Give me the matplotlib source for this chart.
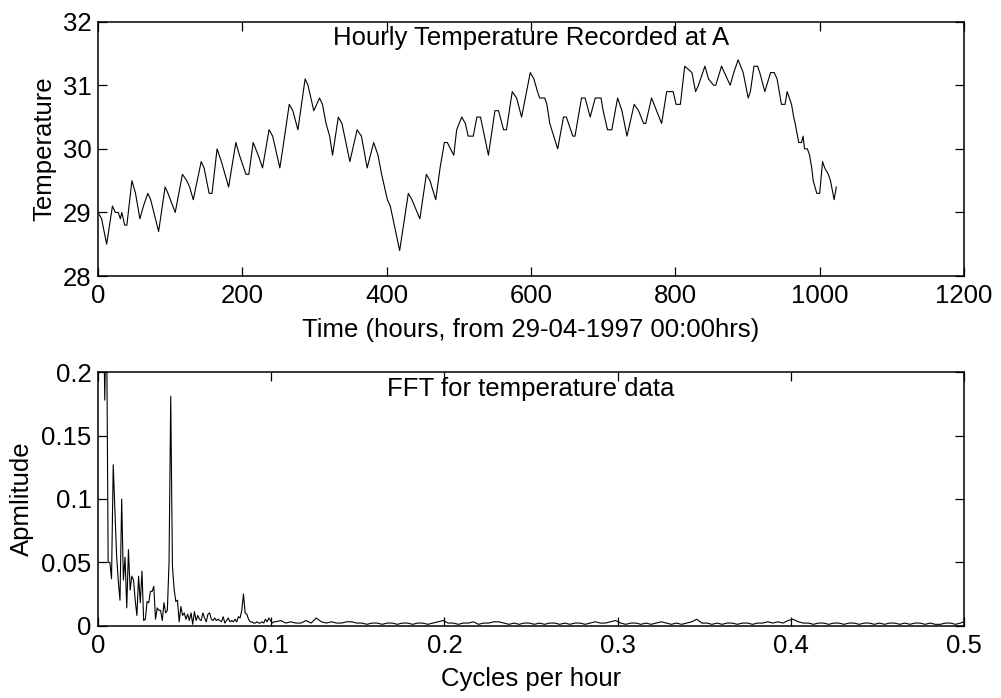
import matplotlib
matplotlib.use("Agg")
import matplotlib.pyplot as plt
import numpy as np

# ---------------- data ----------------
hours = [0, 5, 12, 20, 24, 28, 31, 33, 37, 40, 47, 52, 58, 63, 69, 73, 84, 93, 97, 107,
         117, 123, 127, 132, 143, 147, 154, 158, 165, 171, 176, 181, 191, 196, 205, 209,
         215, 222, 228, 237, 242, 252, 256, 265, 270, 277, 287, 291, 299, 307, 311, 316,
         321, 325, 333, 338, 349, 359, 365, 373, 382, 388, 393, 401, 405, 418, 430, 435,
         446, 455, 460, 468, 474, 480, 484, 493, 497, 504, 509, 513, 520, 525, 530, 541,
         550, 555, 562, 566, 574, 580, 587, 599, 604, 609, 612, 619, 622, 626, 637, 645,
         649, 658, 661, 670, 675, 682, 689, 697, 700, 706, 712, 720, 726, 733, 743, 749,
         756, 759, 767, 774, 781, 788, 797, 801, 807, 813, 823, 828, 832, 841, 846, 853,
         856, 864, 876, 881, 887, 894, 901, 904, 909, 914, 917, 924, 932, 937, 941, 947,
         952, 955, 958, 961, 964, 966, 971, 975, 977, 979, 983, 986, 989, 991, 996, 1000,
         1004, 1007, 1012, 1015, 1020, 1023]
temps = [29.0, 28.9, 28.5, 29.1, 29.0, 29.0, 28.9, 29.0, 28.8, 28.8, 29.5, 29.3, 28.9, 29.1,
         29.3, 29.2, 28.7, 29.4, 29.3, 29.0, 29.6, 29.5, 29.4, 29.2, 29.8, 29.7, 29.3, 29.3,
         30.0, 29.8, 29.6, 29.4, 30.1, 29.9, 29.6, 29.6, 30.1, 29.9, 29.7, 30.3, 30.2, 29.7,
         30.0, 30.7, 30.6, 30.3, 31.1, 31.0, 30.6, 30.8, 30.7, 30.4, 30.2, 29.9, 30.5, 30.4,
         29.8, 30.3, 30.2, 29.7, 30.1, 29.9, 29.6, 29.2, 29.1, 28.4, 29.3, 29.2, 28.9, 29.6,
         29.5, 29.2, 29.7, 30.1, 30.1, 29.9, 30.3, 30.5, 30.4, 30.2, 30.2, 30.5, 30.5, 29.9,
         30.6, 30.6, 30.3, 30.3, 30.9, 30.8, 30.5, 31.2, 31.1, 30.9, 30.8, 30.8, 30.7, 30.4,
         30.0, 30.5, 30.5, 30.2, 30.2, 30.8, 30.8, 30.5, 30.8, 30.8, 30.6, 30.3, 30.3, 30.8,
         30.6, 30.2, 30.7, 30.6, 30.4, 30.4, 30.8, 30.6, 30.4, 30.9, 30.9, 30.7, 30.7, 31.3,
         31.2, 30.9, 31.0, 31.3, 31.1, 31.0, 31.0, 31.3, 31.0, 31.2, 31.4, 31.2, 30.8, 30.9,
         31.3, 31.3, 31.2, 30.9, 31.2, 31.2, 31.1, 30.7, 30.7, 30.9, 30.8, 30.7, 30.5, 30.4,
         30.1, 30.1, 30.2, 30.0, 30.0, 29.9, 29.7, 29.5, 29.3, 29.3, 29.8, 29.7, 29.6, 29.5,
         29.2, 29.4]

# FFT: bin index (frequency = bin / 1024 cycles per hour) and amplitude
fft_bins = list(range(0, 105)) + list(range(105, 511, 3)) + [512]
fft_amp = [
    1.20, 0.60, 0.40, 0.28, 0.178, 0.26, 0.050, 0.050, 0.037, 0.127,
    0.090, 0.055, 0.035, 0.020, 0.100, 0.036, 0.054, 0.014, 0.060, 0.028,
    0.039, 0.036, 0.020, 0.008, 0.039, 0.018, 0.043, 0.004, 0.005, 0.019,
    0.018, 0.027, 0.027, 0.031, 0.005, 0.014, 0.012, 0.012, 0.004, 0.018,
    0.010, 0.012, 0.050, 0.181, 0.047, 0.029, 0.019, 0.020, 0.003, 0.015,
    0.008, 0.010, 0.005, 0.009, 0.004, 0.010, 0.001, 0.011, 0.004, 0.008,
    0.005, 0.004, 0.010, 0.006, 0.003, 0.009, 0.010, 0.005, 0.004, 0.006,
    0.004, 0.005, 0.004, 0.003, 0.007, 0.002, 0.004, 0.006, 0.003, 0.004,
    0.003, 0.005, 0.003, 0.007, 0.006, 0.012, 0.025, 0.010, 0.009, 0.005,
    0.003, 0.003, 0.002, 0.002, 0.003, 0.002, 0.002, 0.003, 0.002, 0.005,
    0.003, 0.006, 0.004, 0.002, 0.003,
    # tail, every third bin from 105
    0.003, 0.004, 0.002, 0.003, 0.002, 0.002, 0.004, 0.002, 0.006, 0.003,
    0.002, 0.003, 0.002, 0.002, 0.003, 0.003, 0.002, 0.002, 0.001, 0.002,
    0.002, 0.001, 0.002, 0.002, 0.001, 0.002, 0.002, 0.001, 0.002, 0.002,
    0.001, 0.002, 0.003, 0.004, 0.002, 0.002, 0.001, 0.002, 0.002, 0.003,
    0.001, 0.002, 0.002, 0.003, 0.003, 0.002, 0.001, 0.002, 0.001, 0.002,
    0.002, 0.001, 0.002, 0.001, 0.002, 0.002, 0.001, 0.002, 0.001, 0.002,
    0.002, 0.001, 0.002, 0.003, 0.002, 0.002, 0.003, 0.004, 0.002, 0.001,
    0.002, 0.002, 0.001, 0.002, 0.001, 0.002, 0.003, 0.002, 0.001, 0.002,
    0.001, 0.002, 0.003, 0.005, 0.002, 0.002, 0.001, 0.002, 0.001, 0.002,
    0.002, 0.001, 0.002, 0.002, 0.001, 0.002, 0.002, 0.003, 0.002, 0.003,
    0.002, 0.004, 0.005, 0.003, 0.002, 0.002, 0.001, 0.002, 0.002, 0.001,
    0.002, 0.002, 0.001, 0.002, 0.002, 0.001, 0.002, 0.002, 0.001, 0.002,
    0.001, 0.002, 0.002, 0.001, 0.002, 0.001, 0.002, 0.002, 0.001, 0.002,
    0.001, 0.001, 0.002, 0.002, 0.001, 0.002,
    0.003]
N_SAMPLES = 1024

top_xticks = [0, 200, 400, 600, 800, 1000, 1200]
top_yticks = [28, 29, 30, 31, 32]
bot_xticks = [0, 0.1, 0.2, 0.3, 0.4, 0.5]
bot_xticklabels = ["0", "0.1", "0.2", "0.3", "0.4", "0.5"]
bot_yticks = [0, 0.05, 0.1, 0.15, 0.2]
bot_yticklabels = ["0", "0.05", "0.1", "0.15", "0.2"]

# ---------------- figure ----------------
plt.rcParams['font.family'] = ['Liberation Sans', 'DejaVu Sans']
FS = 18.5
W, H = 1001, 698
fig = plt.figure(figsize=(W / 100, H / 100), dpi=100)
fig.patch.set_facecolor('white')

ax1 = fig.add_axes([98 / W, 1 - 276 / H, 866 / W, 254.3 / H])
ax2 = fig.add_axes([98 / W, 1 - 625.6 / H, 866 / W, 253.3 / H])


def style(ax):
    for s in ax.spines.values():
        s.set_linewidth(1.1)
        s.set_color('black')
    ax.tick_params(direction='in', top=True, right=True, length=6.2, width=0.9,
                   labelsize=FS, colors='black')
    ax.tick_params(axis='x', pad=6)
    ax.tick_params(axis='y', pad=4.5)


# top panel
ax1.plot(hours, temps, color='black', lw=0.8)
ax1.set_xlim(0, 1200)
ax1.set_ylim(28, 32)
ax1.set_xticks(top_xticks)
ax1.set_yticks(top_yticks)
style(ax1)
ax1.text(0.5, 0.982, "Hourly Temperature Recorded at A", transform=ax1.transAxes,
         ha='center', va='top', fontsize=FS)
ax1.set_xlabel("Time (hours, from 29-04-1997 00:00hrs)", fontsize=FS)
ax1.xaxis.set_label_coords(0.5, -0.165)
ax1.set_ylabel("Temperature", fontsize=FS)
ax1.yaxis.set_label_coords(-0.0485, 0.5)

# bottom panel
freqs = np.array(fft_bins) / N_SAMPLES
ax2.plot(freqs, fft_amp, color='black', lw=0.8)
ax2.set_xlim(0, 0.5)
ax2.set_ylim(0, 0.2)
ax2.set_xticks(bot_xticks)
ax2.set_xticklabels(bot_xticklabels)
ax2.set_yticks(bot_yticks)
ax2.set_yticklabels(bot_yticklabels)
style(ax2)
ax2.text(0.5, 0.982, "FFT for temperature data", transform=ax2.transAxes,
         ha='center', va='top', fontsize=FS)
ax2.set_xlabel("Cycles per hour", fontsize=FS)
ax2.xaxis.set_label_coords(0.5, -0.165)
ax2.set_ylabel("Apmlitude", fontsize=FS)
ax2.yaxis.set_label_coords(-0.0739, 0.5)

fig.savefig("out.png", dpi=100, facecolor='white')
